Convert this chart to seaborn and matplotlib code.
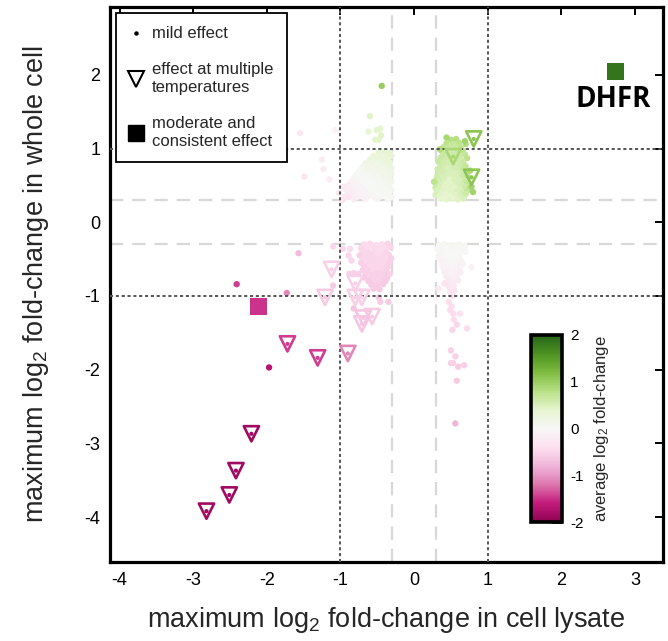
import numpy as np
import pandas as pd
import matplotlib
matplotlib.use("Agg")
import matplotlib.pyplot as plt
import seaborn as sns
from matplotlib.lines import Line2D
from matplotlib.colors import Normalize
from matplotlib.cm import ScalarMappable

# ---------------- data (x = max log2 FC lysate, y = max log2 FC whole cell, c = avg log2 FC)
green_cluster = [
    (0.50,1.12,0.8),(0.57,1.13,0.8),
    (0.44,1.07,0.75),(0.53,1.06,0.7),(0.61,1.08,0.75),(0.70,1.06,0.85),
    (0.40,1.02,0.7),(0.48,1.01,0.65),(0.55,1.03,0.65),(0.63,1.01,0.75),
    (0.37,0.97,0.7),(0.45,0.96,0.6),(0.51,0.98,0.6),(0.58,0.96,0.65),(0.66,0.97,0.75),
    (0.40,0.92,0.65),(0.47,0.91,0.6),(0.54,0.93,0.6),(0.61,0.91,0.6),(0.69,0.92,0.7),
    (0.36,0.88,0.65),(0.43,0.86,0.6),(0.50,0.87,0.55),(0.57,0.89,0.6),(0.64,0.85,0.6),(0.72,0.87,0.75),
    (0.33,0.82,0.65),(0.40,0.81,0.6),(0.47,0.83,0.55),(0.54,0.81,0.55),(0.60,0.82,0.6),(0.67,0.80,0.65),
    (0.36,0.77,0.6),(0.43,0.76,0.55),(0.50,0.78,0.55),(0.57,0.76,0.55),(0.63,0.77,0.6),(0.70,0.76,0.7),
    (0.32,0.72,0.6),(0.39,0.71,0.55),(0.46,0.73,0.5),(0.53,0.71,0.55),(0.60,0.72,0.55),(0.66,0.71,0.65),
    (0.35,0.67,0.55),(0.42,0.66,0.55),(0.49,0.68,0.5),(0.56,0.66,0.5),(0.63,0.67,0.55),(0.70,0.66,0.65),
    (0.31,0.62,0.6),(0.38,0.61,0.5),(0.45,0.63,0.5),(0.52,0.61,0.5),(0.59,0.62,0.5),(0.66,0.61,0.6),(0.73,0.62,0.75),
    (0.34,0.57,0.55),(0.41,0.56,0.5),(0.48,0.58,0.45),(0.55,0.56,0.5),(0.62,0.57,0.5),(0.69,0.56,0.6),
    (0.30,0.52,0.6),(0.37,0.51,0.5),(0.44,0.53,0.45),(0.51,0.51,0.45),(0.58,0.52,0.5),(0.65,0.51,0.55),(0.72,0.53,0.7),
    (0.29,0.47,0.6),(0.34,0.46,0.5),(0.41,0.48,0.45),(0.48,0.46,0.45),(0.55,0.47,0.45),(0.62,0.46,0.5),(0.69,0.48,0.6),(0.75,0.46,0.75),
    (0.31,0.42,0.5),(0.38,0.41,0.45),(0.45,0.43,0.45),(0.52,0.41,0.45),(0.59,0.42,0.5),(0.66,0.41,0.55),(0.72,0.43,0.7),
    (0.29,0.37,0.5),(0.35,0.36,0.45),(0.42,0.38,0.4),(0.49,0.36,0.4),(0.56,0.37,0.45),(0.63,0.36,0.5),(0.70,0.38,0.6),
    (0.36,0.32,0.4),(0.44,0.31,0.4),(0.52,0.32,0.4),(0.60,0.31,0.45),(0.67,0.32,0.5),
    (0.44,1.15,0.9),(0.69,1.10,0.95),(0.35,0.99,0.85),(0.78,0.48,0.95),(0.80,0.41,0.95),(0.27,0.55,0.75),(0.76,0.70,0.9),
]

upper_left_cluster = [
    (-0.48,0.95,0.35),(-0.40,0.96,0.35),(-0.33,0.94,0.4),
    (-0.55,0.90,0.3),(-0.46,0.91,0.3),(-0.38,0.89,0.3),(-0.31,0.90,0.35),
    (-0.60,0.85,0.25),(-0.52,0.86,0.25),(-0.44,0.84,0.25),(-0.36,0.85,0.3),
    (-0.66,0.80,0.2),(-0.57,0.81,0.2),(-0.49,0.79,0.2),(-0.41,0.80,0.25),(-0.33,0.81,0.3),
    (-0.70,0.75,0.1),(-0.62,0.76,0.15),(-0.54,0.74,0.15),(-0.46,0.75,0.2),(-0.38,0.76,0.2),(-0.31,0.74,0.25),
    (-0.74,0.70,0.05),(-0.66,0.71,0.1),(-0.58,0.69,0.1),(-0.50,0.70,0.15),(-0.42,0.71,0.15),(-0.34,0.69,0.2),
    (-0.78,0.65,0.0),(-0.70,0.66,0.05),(-0.62,0.64,0.05),(-0.54,0.65,0.1),(-0.46,0.66,0.1),(-0.38,0.64,0.15),(-0.31,0.65,0.2),
    (-0.82,0.60,-0.05),(-0.74,0.61,0.0),(-0.66,0.59,0.0),(-0.58,0.60,0.05),(-0.50,0.61,0.05),(-0.42,0.59,0.1),(-0.34,0.60,0.15),
    (-0.86,0.55,-0.1),(-0.78,0.56,-0.05),(-0.70,0.54,0.0),(-0.62,0.55,0.0),(-0.54,0.56,0.05),(-0.46,0.54,0.05),(-0.38,0.55,0.1),(-0.31,0.56,0.15),
    (-0.90,0.50,-0.15),(-0.82,0.51,-0.1),(-0.74,0.49,-0.05),(-0.66,0.50,0.0),(-0.58,0.51,0.0),(-0.50,0.49,0.05),(-0.42,0.50,0.05),(-0.34,0.51,0.1),
    (-0.94,0.45,-0.2),(-0.86,0.46,-0.15),(-0.78,0.44,-0.1),(-0.70,0.45,-0.05),(-0.62,0.46,0.0),(-0.54,0.44,0.0),(-0.46,0.45,0.05),(-0.38,0.46,0.05),(-0.31,0.44,0.1),
    (-0.90,0.40,-0.2),(-0.82,0.41,-0.15),(-0.74,0.39,-0.1),(-0.66,0.40,-0.05),(-0.58,0.41,0.0),(-0.50,0.39,0.0),(-0.42,0.40,0.05),(-0.34,0.41,0.05),
    (-0.94,0.35,-0.25),(-0.86,0.36,-0.2),(-0.78,0.34,-0.15),(-0.70,0.35,-0.1),(-0.62,0.36,-0.05),(-0.54,0.34,0.0),(-0.46,0.35,0.0),(-0.38,0.36,0.05),(-0.31,0.34,0.05),
    (-0.82,0.31,-0.2),(-0.66,0.31,-0.1),(-0.50,0.32,-0.05),(-0.36,0.31,0.0),
    (-0.44,1.85,1.0),(-0.60,1.44,0.45),(-0.46,1.27,0.4),(-0.51,1.25,0.4),(-0.62,1.23,0.35),(-0.53,1.12,0.4),
    (-0.48,1.12,0.4),(-0.45,1.18,0.45),(-1.55,1.21,-0.25),(-1.49,0.62,-0.3),(-1.25,0.85,-0.2),(-1.23,0.72,-0.2),
    (-1.15,0.58,-0.2),(-1.07,1.25,-0.1),(-0.96,0.48,-0.25),(-0.89,0.34,-0.3),(-1.02,0.40,-0.25),(-0.98,0.30,-0.3),
]

pink_cluster = [
    (-0.68,-0.30,-0.45),(-0.60,-0.29,-0.45),(-0.52,-0.31,-0.45),(-0.44,-0.30,-0.45),(-0.36,-0.29,-0.5),
    (-0.72,-0.35,-0.5),(-0.64,-0.36,-0.45),(-0.56,-0.34,-0.45),(-0.48,-0.35,-0.45),(-0.40,-0.36,-0.45),(-0.32,-0.34,-0.5),
    (-0.70,-0.40,-0.5),(-0.62,-0.41,-0.5),(-0.54,-0.39,-0.45),(-0.46,-0.40,-0.45),(-0.38,-0.41,-0.5),
    (-0.74,-0.45,-0.55),(-0.66,-0.46,-0.5),(-0.58,-0.44,-0.5),(-0.50,-0.45,-0.45),(-0.42,-0.46,-0.5),(-0.34,-0.44,-0.5),
    (-0.70,-0.50,-0.5),(-0.62,-0.51,-0.5),(-0.54,-0.49,-0.5),(-0.46,-0.50,-0.5),(-0.38,-0.51,-0.5),(-0.31,-0.49,-0.55),
    (-0.72,-0.55,-0.55),(-0.64,-0.56,-0.5),(-0.56,-0.54,-0.5),(-0.48,-0.55,-0.5),(-0.40,-0.56,-0.5),(-0.33,-0.54,-0.55),
    (-0.68,-0.60,-0.55),(-0.60,-0.61,-0.5),(-0.52,-0.59,-0.5),(-0.44,-0.60,-0.5),(-0.36,-0.61,-0.55),
    (-0.70,-0.65,-0.55),(-0.62,-0.66,-0.55),(-0.54,-0.64,-0.5),(-0.46,-0.65,-0.5),(-0.38,-0.66,-0.55),
    (-0.66,-0.70,-0.55),(-0.58,-0.71,-0.55),(-0.50,-0.69,-0.55),(-0.42,-0.70,-0.55),(-0.35,-0.71,-0.6),
    (-0.68,-0.75,-0.6),(-0.60,-0.76,-0.55),(-0.52,-0.74,-0.55),(-0.44,-0.75,-0.55),(-0.37,-0.76,-0.6),
    (-0.62,-0.80,-0.6),(-0.54,-0.81,-0.55),(-0.46,-0.79,-0.55),(-0.39,-0.80,-0.6),
    (-0.58,-0.85,-0.6),(-0.50,-0.86,-0.6),(-0.42,-0.84,-0.6),
    (-0.55,-0.90,-0.6),(-0.47,-0.91,-0.6),
    (-1.10,-0.33,-0.5),(-0.97,-0.36,-0.5),(-0.87,-0.36,-0.45),(-0.89,-0.45,-0.5),(-0.85,-0.52,-0.5),
    (-0.88,-0.70,-0.55),(-0.82,-0.69,-0.55),(-0.76,-0.70,-0.55),(-1.10,-0.86,-0.6),(-0.48,-1.02,-0.6),
    (-0.35,-1.08,-0.6),(-0.33,-0.70,-0.55),(-0.82,-1.17,-0.65),(-0.46,-1.08,-0.6),(-1.57,-0.42,-0.75),
    (-2.41,-0.84,-1.45),(-1.73,-0.96,-1.1),(-1.97,-1.97,-1.7),
]

lower_right_cluster = [
    (0.34,-0.31,0.05),(0.41,-0.30,0.05),(0.48,-0.32,0.05),(0.55,-0.31,0.05),(0.62,-0.30,0.05),(0.69,-0.32,0.05),
    (0.32,-0.36,0.0),(0.38,-0.37,0.05),(0.45,-0.35,0.0),(0.52,-0.36,0.05),(0.59,-0.37,0.0),(0.66,-0.35,0.05),
    (0.35,-0.41,0.0),(0.42,-0.42,0.0),(0.49,-0.40,0.0),(0.56,-0.41,0.0),(0.63,-0.42,0.0),(0.70,-0.40,0.0),
    (0.33,-0.46,-0.05),(0.40,-0.47,0.0),(0.47,-0.45,0.0),(0.54,-0.46,0.0),(0.61,-0.47,0.0),
    (0.36,-0.51,-0.05),(0.43,-0.52,-0.05),(0.50,-0.50,0.0),(0.57,-0.51,0.0),(0.64,-0.52,-0.05),
    (0.38,-0.56,-0.1),(0.45,-0.57,-0.05),(0.52,-0.55,-0.05),(0.59,-0.56,-0.05),(0.66,-0.57,-0.1),
    (0.40,-0.62,-0.1),(0.47,-0.63,-0.1),(0.54,-0.61,-0.05),(0.61,-0.62,-0.1),
    (0.42,-0.68,-0.15),(0.49,-0.69,-0.1),(0.56,-0.67,-0.1),(0.63,-0.68,-0.15),
    (0.44,-0.74,-0.2),(0.51,-0.75,-0.15),(0.58,-0.73,-0.15),
    (0.46,-0.80,-0.25),(0.53,-0.81,-0.2),(0.60,-0.79,-0.2),
    (0.47,-0.87,-0.3),(0.54,-0.86,-0.25),
    (0.49,-0.94,-0.3),(0.55,-0.93,-0.3),
    (0.52,-1.00,-0.35),
    (0.78,-0.61,-0.1),(0.41,-0.83,-0.3),(0.33,-0.90,-0.25),(0.47,-1.08,-0.4),(0.51,-1.14,-0.45),
    (0.49,-1.19,-0.45),(0.53,-1.24,-0.45),(0.62,-1.24,-0.4),(0.54,-1.32,-0.45),(0.58,-1.39,-0.5),
    (0.72,-1.44,-0.45),(0.52,-1.46,-0.5),(0.50,-1.74,-0.55),(0.56,-1.82,-0.55),(0.50,-1.91,-0.55),
    (0.53,-1.91,-0.55),(0.60,-1.96,-0.6),(0.68,-1.94,-0.55),(0.58,-2.15,-0.6),(0.56,-2.73,-0.8),
]

# effect at multiple temperatures (hollow triangles)
multi_temp = [
    (0.81,1.13,1.1),(0.78,0.61,1.1),(0.53,0.89,0.9),
    (-1.12,-0.64,-0.55),(-1.21,-1.02,-0.6),(-0.80,-0.83,-0.55),(-0.80,-1.02,-0.55),
    (-0.71,-1.02,-0.55),(-0.69,-1.30,-0.65),(-0.57,-1.28,-0.6),(-0.71,-1.38,-0.65),
    (-1.72,-1.65,-1.45),(-1.31,-1.84,-1.45),(-0.90,-1.78,-1.1),
    (-2.21,-2.87,-1.85),(-2.42,-3.37,-1.85),(-2.51,-3.70,-1.85),(-2.82,-3.92,-1.85),
]

# moderate and consistent effect (squares)
consistent = [(-2.12,-1.14,-1.5),(2.74,2.04,1.85)]
consistent_names = ["", "DHFR"]

x_ticks = [-4,-3,-2,-1,0,1,2,3]
y_ticks = [-4,-3,-2,-1,0,1,2]
cbar_ticks = [-2,-1,0,1,2]
cutoff_strong = [-1, 1]
cutoff_mild = [-0.3, 0.3]

cols = ["x", "y", "c"]
dots = pd.DataFrame(upper_left_cluster + lower_right_cluster + pink_cluster + green_cluster, columns=cols)
tri = pd.DataFrame(multi_temp, columns=cols)
sq = pd.DataFrame(consistent, columns=cols)

# ---------------- style
sns.set_theme(style="white")
plt.rcParams["font.family"] = ["Liberation Sans", "DejaVu Sans"]
plt.rcParams["mathtext.fontset"] = "custom"
plt.rcParams["mathtext.rm"] = "Liberation Sans"
plt.rcParams["mathtext.default"] = "regular"
plt.rcParams["axes.unicode_minus"] = False

cmap = "PiYG"
norm = (-2, 2)

fig = plt.figure(figsize=(6.68, 6.41), dpi=100)
ax = fig.add_axes([0.1647, 0.1232, 0.8278, 0.8658])

# reference lines
for v in cutoff_mild:
    ax.axvline(v, color="#d8d8d8", lw=1.6, ls=(0, (6, 4)), zorder=1)
    ax.axhline(v, color="#d8d8d8", lw=1.6, ls=(0, (6, 4)), zorder=1)

sns.scatterplot(data=dots, x="x", y="y", hue="c", palette=cmap, hue_norm=norm,
                s=21, linewidth=0, legend=False, ax=ax, zorder=2)

for v in cutoff_strong:
    ax.axvline(v, color="#555555", lw=1.4, ls=(0, (1.6, 1.4)), zorder=3)
    ax.axhline(v, color="#555555", lw=1.4, ls=(0, (1.6, 1.4)), zorder=3)

# triangles (hollow)
sns.scatterplot(data=tri, x="x", y="y", hue="c", palette=cmap, hue_norm=norm,
                marker="v", s=120, legend=False, ax=ax, zorder=4)
coll = ax.collections[-1]
fc = coll.get_facecolors()
coll.set_facecolors("none")
coll.set_edgecolors(fc)
coll.set_linewidths(1.9)
# the mild-effect dot at each triangle
sns.scatterplot(data=tri, x="x", y="y", hue="c", palette=cmap, hue_norm=norm,
                s=9, linewidth=0, legend=False, ax=ax, zorder=4)

# squares
sns.scatterplot(data=sq, x="x", y="y", hue="c", palette=cmap, hue_norm=norm,
                marker="s", s=150, linewidth=0, legend=False, ax=ax, zorder=5)
for (x, y, c), name in zip(consistent, consistent_names):
    if name:
        ax.text(x - 0.04, y - 0.38, name, fontfamily="Open Sans", fontweight="bold",
                fontsize=20, ha="center", va="center", color="black", zorder=6)

ax.set_xlim(-4.13, 3.38)
ax.set_ylim(-4.61, 2.92)
ax.set_xticks(x_ticks)
ax.set_yticks(y_ticks)
ax.set_xticklabels([str(t) for t in x_ticks])
ax.set_yticklabels([str(t) for t in y_ticks])
ax.tick_params(direction="in", top=True, right=True, length=6, width=1.4,
               labelsize=13, pad=7, colors="black")
for s in ax.spines.values():
    s.set_visible(True)
    s.set_linewidth(2.3)
    s.set_color("black")

ax.set_xlabel("maximum log$_2$ fold-change in cell lysate", fontsize=19.5, labelpad=12)
ax.set_ylabel("maximum log$_2$ fold-change in whole cell", fontsize=19.5, labelpad=24)

# legend
handles = [
    Line2D([], [], ls="", marker="o", color="black", markersize=2.2),
    Line2D([], [], ls="", marker="v", mfc="none", mec="black", markersize=11, mew=1.5),
    Line2D([], [], ls="", marker="s", color="black", markersize=11),
]
labels = ["mild effect", "effect at multiple\ntemperatures", "moderate and\nconsistent effect"]
leg = ax.legend(handles, labels, loc="upper left", bbox_to_anchor=(0.011, 0.989),
                borderaxespad=0, fontsize=12, frameon=True, fancybox=False,
                framealpha=1, edgecolor="black", handlelength=0.8, handletextpad=0.55,
                borderpad=0.8, labelspacing=1.25)
leg.get_frame().set_linewidth(1.3)
for t in leg.get_texts():
    t.set_linespacing(1.25)
leg.set_zorder(10)

# colorbar
cax = fig.add_axes([531 / 668, 1 - 522 / 641, 31 / 668, 187 / 641])
sm = ScalarMappable(norm=Normalize(*norm), cmap=cmap)
cb = fig.colorbar(sm, cax=cax, ticks=cbar_ticks)
cb.outline.set_linewidth(2.6)
cb.outline.set_edgecolor("black")
cax.tick_params(direction="in", length=8, width=1.8, labelsize=11, pad=6, colors="black")
cb.set_label("average log$_2$ fold-change", fontsize=12, labelpad=6)

fig.savefig("out.png", dpi=100)
